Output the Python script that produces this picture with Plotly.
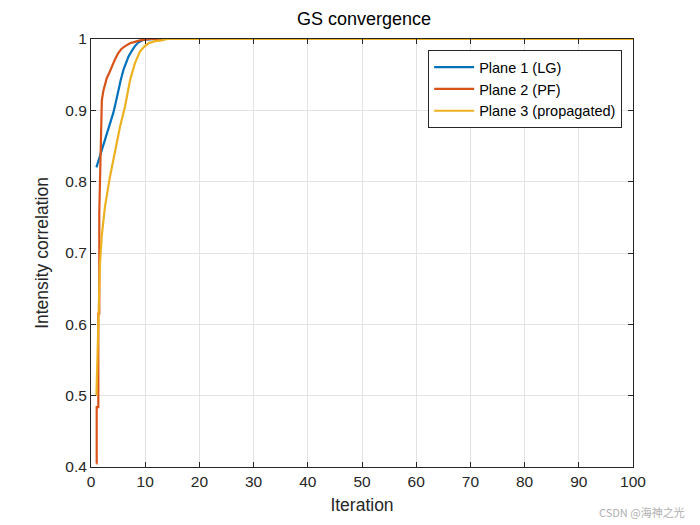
import plotly.graph_objects as go

# Data (iteration vs intensity correlation)
x_lg = [1, 1.5, 2.0, 2.6, 3.2, 3.7, 4.1, 4.6, 5.0, 5.5, 6.0, 6.5, 6.9, 7.5, 8.1, 8.7, 9.4, 10, 12, 100]
y_lg = [0.82, 0.832, 0.844, 0.858, 0.872, 0.884, 0.896, 0.912, 0.928, 0.943, 0.957, 0.967, 0.975, 0.983, 0.99, 0.995, 0.998, 0.999, 1.0, 1.0]

x_pf = [1, 1.05, 1.05, 1.35, 1.35, 1.53, 1.53, 1.85, 2.0, 2.3, 2.9, 3.4, 3.8, 4.4, 5.0, 5.6, 6.3, 7.2, 8.1, 9, 10, 11, 100]
y_pf = [0.405, 0.405, 0.484, 0.484, 0.615, 0.615, 0.756, 0.891, 0.914, 0.928, 0.945, 0.953, 0.961, 0.971, 0.98, 0.986, 0.99, 0.994, 0.996, 0.998, 0.999, 1.0, 1.0]

x_prop = [1, 1.1, 1.35, 1.66, 1.97, 2.58, 3.5, 4.43, 5.35, 6.27, 7.2, 8.1, 9.0, 9.8, 10.6, 11.8, 13, 14, 100]
y_prop = [0.5, 0.53, 0.625, 0.686, 0.723, 0.765, 0.807, 0.844, 0.877, 0.905, 0.942, 0.966, 0.982, 0.989, 0.994, 0.997, 0.998, 1.0, 1.0]

names = ["Plane 1 (LG)", "Plane 2 (PF)", "Plane 3 (propagated)"]
colors = ["#0072BD", "#D95319", "#EDB120"]

x_ticks = list(range(0, 101, 10))
y_ticks = [0.4, 0.5, 0.6, 0.7, 0.8, 0.9, 1.0]
y_tick_labels = ["0.4", "0.5", "0.6", "0.7", "0.8", "0.9", "1"]

FONT = "Liberation Sans, Arial, sans-serif"

fig = go.Figure()
for xs, ys, nm, c in zip([x_lg, x_pf, x_prop], [y_lg, y_pf, y_prop], names, colors):
    fig.add_trace(go.Scatter(x=xs, y=ys, mode="lines", name=nm,
                             line=dict(color=c, width=2.2)))

axis_common = dict(
    showline=True, linecolor="#262626", linewidth=1, mirror="ticks",
    ticks="inside", ticklen=5, tickcolor="#262626",
    showgrid=True, gridcolor="#E3E3E3", gridwidth=1, zeroline=False,
    tickfont=dict(family=FONT, size=15.5, color="#262626"),
)

fig.update_layout(
    width=700, height=525,
    paper_bgcolor="white", plot_bgcolor="white",
    margin=dict(l=91, r=67, t=39, b=58),
    title=dict(text="GS convergence", x=0.52, xanchor="center", y=0.977, yanchor="top",
               font=dict(family=FONT, size=18, color="#000000")),
    xaxis=dict(range=[0, 100], tickvals=x_ticks,
               title=dict(text="Iteration", standoff=10,
                          font=dict(family=FONT, size=17.5, color="#262626")),
               **axis_common),
    yaxis=dict(range=[0.4, 1.0], tickvals=y_ticks, ticktext=y_tick_labels,
               title=dict(text="Intensity correlation", standoff=12,
                          font=dict(family=FONT, size=17.5, color="#262626")),
               **axis_common),
    legend=dict(x=0.98, y=0.974, xanchor="right", yanchor="top",
                bgcolor="white", bordercolor="#262626", borderwidth=1,
                font=dict(family=FONT, size=14.5, color="#000000"),
                tracegroupgap=0, itemwidth=40),
    showlegend=True,
)

fig.add_annotation(text="CSDN @海神之光", xref="paper", yref="paper",
                   x=1.1, y=-0.128, xanchor="right", yanchor="bottom", showarrow=False,
                   font=dict(family="Noto Sans CJK SC", size=11, color="#B0B0B0"))

fig.write_html("out.html")
